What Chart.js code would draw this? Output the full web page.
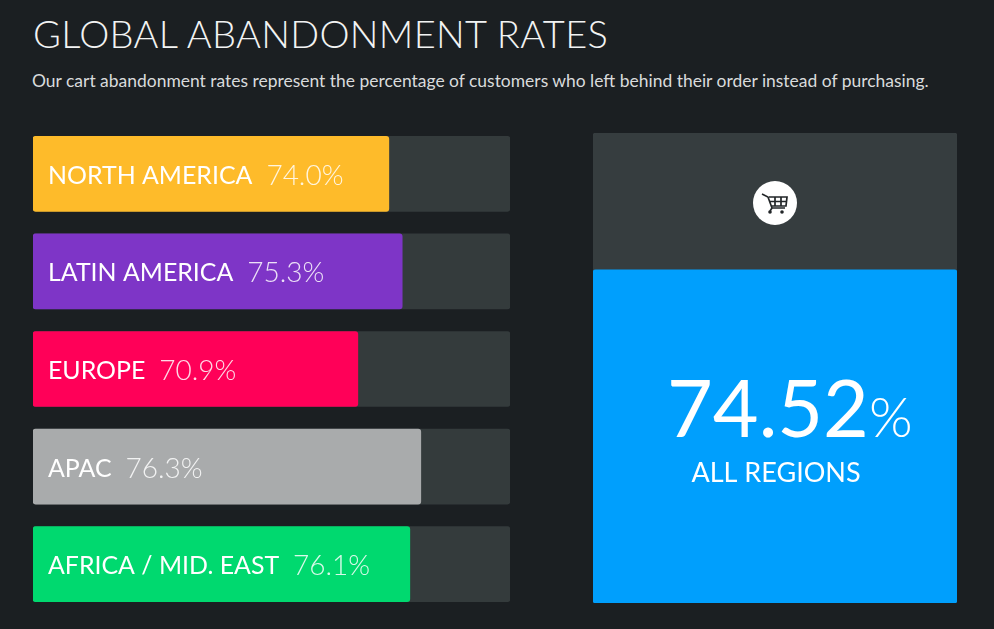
<!DOCTYPE html>
<html>
<head>
<meta charset="utf-8">
<title>Global abandonment rates</title>
<script src="https://cdn.jsdelivr.net/npm/chart.js"></script>
<style>
  html, body { margin: 0; padding: 0; background: #1b1f22; }
  body { width: 994px; height: 629px; position: relative; overflow: hidden; font-family: Lato, sans-serif; }
  h1 { position: absolute; left: 33px; top: 10px; margin: 0; color: #f2f3f3; font-weight: 300; font-size: 38px; line-height: 46px; letter-spacing: 0.33px; white-space: nowrap; }
  p { position: absolute; left: 32px; top: 69px; margin: 0; color: #d9dbdc; font-size: 17.47px; line-height: 24px; white-space: nowrap; }
  canvas { position: absolute; }
  #regions { left: 33px; top: 125px; }
  #overall { left: 593px; top: 133px; }
  #badge { position: absolute; left: 753px; top: 181px; }
</style>
</head>
<body>
<h1>GLOBAL ABANDONMENT RATES</h1>
<p>Our cart abandonment rates represent the percentage of customers who left behind their order instead of purchasing.</p>
<canvas id="regions" width="477" height="488"></canvas>
<canvas id="overall" width="364" height="470"></canvas>
<svg id="badge" width="44" height="44" viewBox="0 0 44 44">
  <circle cx="22" cy="22" r="22" fill="#fff"/>
  <g fill="none" stroke="#222628" stroke-width="1.7">
    <path d="M9 13l6 3 4 11h13"/>
    <path d="M16 16h18l-1 9H19M22 16v9M28 16v9M17 20.5h16"/>
    <path d="M19 27l-2 3"/>
  </g>
  <circle cx="17" cy="31" r="1.8" fill="#222628"/>
  <circle cx="29" cy="31" r="1.8" fill="#222628"/>
</svg>
<script>
var regions = ["NORTH AMERICA", "LATIN AMERICA", "EUROPE", "APAC", "AFRICA / MID. EAST"];
var rates = [74.0, 75.3, 70.9, 76.3, 76.1];
// bar lengths, they are not to scale with the printed rates
var fillLengths = [74.6, 77.4, 68.1, 81.3, 79.0];
var trackLengths = [100, 100, 100, 100, 100];
var barColors = ["#febb2a", "#7e35c7", "#ff0058", "#a9abac", "#00d96f"];

var overallRate = "74.52";
var overallLabel = "ALL REGIONS";
var overallFill = [70.9];
var overallTrack = [100];

var hiddenAxis = { display: false, stacked: false, grid: { display: false } };

// writes region name and rate inside each bar
var barText = {
    id: "barText",
    afterDatasetsDraw: function(chart) {
        var ctx = chart.ctx;
        var meta = chart.getDatasetMeta(1);
        ctx.save();
        ctx.textBaseline = "middle";
        for (var i = 0; i < regions.length; i++) {
            var y = meta.data[i].y + 2;
            ctx.font = "400 24.9px Lato";
            ctx.fillStyle = "#fff";
            ctx.fillText(regions[i], 15, y);
            var w = ctx.measureText(regions[i]).width;
            ctx.font = "300 28px Lato";
            ctx.fillStyle = "rgba(255,255,255,0.85)";
            ctx.fillText(rates[i].toFixed(1) + "%", 15 + w + 14, y);
        }
        ctx.restore();
    }
};

// big number in the middle of the blue panel
var panelText = {
    id: "panelText",
    afterDatasetsDraw: function(chart) {
        var ctx = chart.ctx;
        ctx.save();
        ctx.fillStyle = "#fff";
        ctx.textBaseline = "alphabetic";
        ctx.font = "400 79px Lato";
        ctx.fillText(overallRate, 74, 304);
        var w = ctx.measureText(overallRate).width;
        ctx.font = "300 56px Lato";
        ctx.fillText("%", 74 + w, 304);
        ctx.font = "400 27px Lato";
        ctx.textAlign = "center";
        ctx.fillText(overallLabel, 183, 349);
        ctx.restore();
    }
};

var chart1 = new Chart(document.getElementById("regions"), {
    type: "bar",
    data: {
        labels: regions,
        datasets: [
            { data: trackLengths, backgroundColor: "#343b3c", borderRadius: 3, borderSkipped: false, order: 2, grouped: false },
            { data: fillLengths, backgroundColor: barColors, borderRadius: 3, borderSkipped: false, order: 1, grouped: false }
        ]
    },
    options: {
        indexAxis: "y",
        responsive: false,
        animation: false,
        barThickness: 75,
        layout: { padding: 0 },
        plugins: { legend: { display: false }, tooltip: { enabled: false } },
        scales: {
            x: Object.assign({}, hiddenAxis, { min: 0, max: 100 }),
            y: hiddenAxis
        }
    },
    plugins: [barText]
});

var chart2 = new Chart(document.getElementById("overall"), {
    type: "bar",
    data: {
        labels: [overallLabel],
        datasets: [
            { data: overallTrack, backgroundColor: "#363d3f", borderRadius: 3, borderSkipped: false, order: 2, grouped: false },
            { data: overallFill, backgroundColor: "#009ffd", borderRadius: 3, borderSkipped: false, order: 1, grouped: false }
        ]
    },
    options: {
        responsive: false,
        animation: false,
        categoryPercentage: 1,
        barPercentage: 1,
        layout: { padding: 0 },
        plugins: { legend: { display: false }, tooltip: { enabled: false } },
        scales: {
            x: hiddenAxis,
            y: Object.assign({}, hiddenAxis, { min: 0, max: 100 })
        }
    },
    plugins: [panelText]
});
</script>
</body>
</html>
